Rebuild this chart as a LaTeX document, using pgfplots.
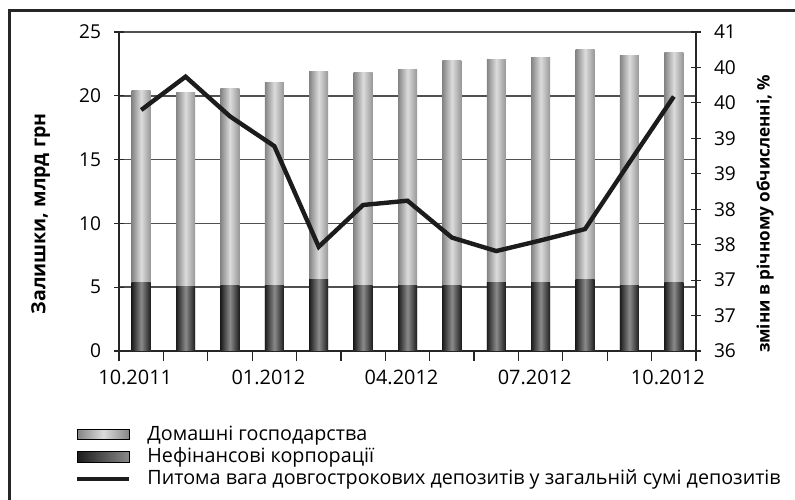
\documentclass[border=0pt]{standalone}
\usepackage{fontspec}
\setmainfont{Open Sans}
\usepackage{pgfplots}
\usepackage{pgfplotstable}
\pgfplotsset{compat=1.18}
\definecolor{cHhEdge}{RGB}{132,132,132}
\definecolor{cHhMid}{RGB}{220,220,220}
\definecolor{cCorpEdge}{RGB}{28,28,28}
\definecolor{cCorpMid}{RGB}{138,138,138}
\definecolor{cGrid}{RGB}{80,80,80}
\definecolor{cLine}{RGB}{28,28,28}

% balances, bn UAH: corporations (corp) and households (hh)
\pgfplotstableread{
idx corp hh
0  5.33 15.05
1  5.02 15.22
2  5.17 15.44
3  5.17 15.91
4  5.64 16.23
5  5.17 16.62
6  5.17 16.93
7  5.17 17.56
8  5.33 17.55
9  5.33 17.71
10 5.64 17.95
11 5.17 17.95
12 5.33 18.10
}\deposits

\pgfplotsset{
  every axis/.append style={
    scale only axis, width=288.5bp, height=159.5bp,
    at={(59.5bp,74.5bp)}, anchor=south west,
    xmin=-0.5, xmax=12.5,
    tick label style={font=\fontsize{9.6}{11}\selectfont},
    /pgf/number format/assume math mode=true,
    axis line style={black!85, line width=0.6bp},
    tick style={black!85, line width=0.6bp},
    major tick length=5bp,
  },
  hhbar/.style={ybar, bar width=9.5bp, bar shift=0pt, draw=none,
    left color=cHhEdge, right color=cHhEdge!85!white, middle color=cHhMid},
  corpbar/.style={ybar, bar width=9.5bp, bar shift=0pt, draw=none,
    left color=cCorpEdge, right color=cCorpEdge, middle color=cCorpMid},
}

\begin{document}
\begin{tikzpicture}
\useasboundingbox (0,0) rectangle (397.5bp,250bp);
% outer frame (only its top and left sides fall inside the picture)
\draw[line width=1.5bp, black!85] (4.75bp,0) -- (4.75bp,244.5bp) -- (397.5bp,244.5bp);

\begin{axis}[
  ymin=0, ymax=25, ytick={0,5,...,25},
  axis x line*=bottom, axis y line*=left,
  ymajorgrids, grid style={cGrid, line width=0.75bp},
  xtick={-0.5,0.5,...,12.5}, xticklabels={},
  xtick align=outside, ytick align=center,
  extra x ticks={0,3,6,9,12},
  extra x tick labels={10.2011,01.2012,04.2012,07.2012,10.2012},
  extra x tick style={major tick length=0pt, grid=none,
    tick label style={xshift=-3bp, yshift=-6bp, font=\fontsize{10}{11}\selectfont}},
  yticklabel style={xshift=-3bp},
  clip=false,
]
% one path per bar so that every bar gets its own shading
\pgfplotsinvokeforeach{0,...,12}{
  \addplot[hhbar, restrict x to domain=#1:#1]
    table[x=idx, y expr=\thisrow{corp}+\thisrow{hh}] {\deposits};
  \addplot[corpbar, restrict x to domain=#1:#1]
    table[x=idx, y=corp] {\deposits};
}
\node[rotate=90, anchor=center, font=\fontsize{9.8}{11}\selectfont\bfseries]
  at (axis description cs:-0.136,0.43) {Залишки, млрд грн};
\node[rotate=90, anchor=center, font=\fontsize{8.6}{10}\selectfont\bfseries]
  at (axis description cs:1.1196,0.43) {зміни в річному обчисленні, \%};
\end{axis}

\begin{axis}[
  ymin=36, ymax=40.5, ytick={36,36.5,...,40.5},
  yticklabels={36,37,37,38,38,39,39,40,40,41},
  axis y line*=right, axis x line=none, ytick align=center,
  yticklabel style={xshift=3bp},
  legend style={at={(axis description cs:-0.0763,-0.226)}, anchor=north west,
    draw=none, fill=none, inner sep=0pt, row sep=0pt,
    font=\fontsize{9.9}{11}\selectfont,
    nodes={inner ysep=1.1bp, inner xsep=2bp},
    /tikz/every odd column/.append style={column sep=6bp}},
  legend cell align=left,
]
\addlegendimage{legend image code/.code={
  \path[left color=cHhEdge, right color=cHhEdge, middle color=cHhMid]
    (0bp,-2.7bp) rectangle (26bp,2.7bp);}}
\addlegendentry{Домашні господарства}
\addlegendimage{legend image code/.code={
  \path[left color=cCorpEdge, right color=cCorpMid]
    (0bp,-2.7bp) rectangle (26bp,2.7bp);}}
\addlegendentry{Нефінансові корпорації}
\addplot[cLine, line width=2.2bp, mark=none,
  legend image code/.code={\draw[cLine, line width=2bp] (0bp,0bp) -- (26bp,0bp);}]
  coordinates {(0,39.40) (1,39.87) (2,39.31) (3,38.89) (4,37.47) (5,38.06) (6,38.12)
               (7,37.60) (8,37.41) (9,37.56) (10,37.72) (11,38.66) (12,39.59)};
\addlegendentry{Питома вага довгострокових депозитів у загальній сумі депозитів}
\end{axis}
\end{tikzpicture}
\end{document}
